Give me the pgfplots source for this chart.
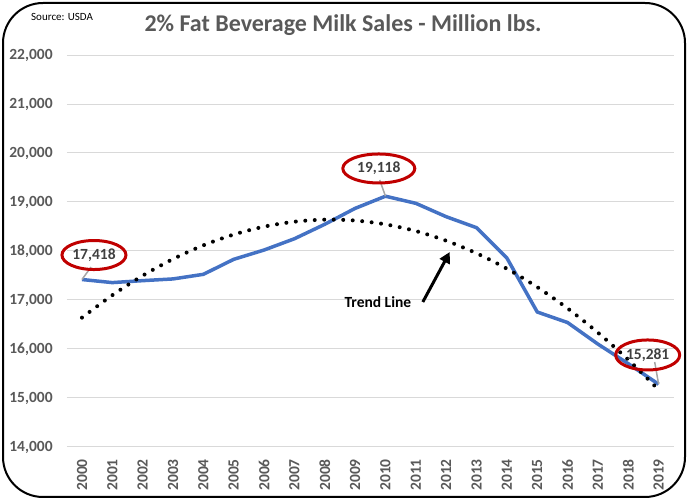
\documentclass[border=0pt]{standalone}
\usepackage{fontspec}
\setmainfont{Carlito}
\usepackage{pgfplots}
\pgfplotsset{compat=1.18}
\usetikzlibrary{arrows.meta,shapes.geometric}
\definecolor{milkblue}{HTML}{4472C4}
\definecolor{gridgrey}{HTML}{D9D9D9}
\definecolor{labelgrey}{HTML}{595959}
\definecolor{datagrey}{HTML}{404040}
\definecolor{leadergrey}{HTML}{A6A6A6}
\definecolor{ellred}{HTML}{C00000}
\begin{document}
\begin{tikzpicture}
\useasboundingbox (0pt,0pt) rectangle (688pt,500pt);
\draw[line width=2pt, rounded corners=40pt] (3pt,3pt) rectangle (685pt,497pt);
\node[font=\fontsize{11}{13}\selectfont, anchor=west, inner sep=0pt] at (31pt,483pt) {Source: USDA};
\node[font=\bfseries\fontsize{24}{28}\selectfont, text=labelgrey] at (343pt,475pt) {2\% Fat Beverage Milk Sales - Million lbs.};
\begin{axis}[
    at={(66.8pt,53pt)}, anchor=south west,
    scale only axis, width=607pt, height=392pt,
    xmin=1999.5, xmax=2019.5, ymin=14000, ymax=22000,
    xtick={2000,...,2019}, ytick={14000,15000,...,22000},
    scaled y ticks=false,
    axis line style={draw=none}, major tick length=0pt,
    ymajorgrids, grid style={draw=gridgrey, line width=1pt},
    ticklabel style={font=\bfseries\fontsize{15.5}{18}\selectfont, text=labelgrey, inner sep=0pt},
    /pgf/number format/assume math mode=true,
    yticklabel style={/pgf/number format/fixed, /pgf/number format/1000 sep={,}},
    xticklabel style={rotate=90, anchor=east, /pgf/number format/1000 sep={}},
    xticklabel shift=12pt, yticklabel shift=14pt,
    clip=false,
  ]
  % 2% fat milk sales, million lbs
  \addplot[milkblue, line width=3.5pt, line join=round] coordinates {
    (2000,17418) (2001,17355) (2002,17395) (2003,17430) (2004,17524)
    (2005,17830) (2006,18020) (2007,18250) (2008,18545) (2009,18870)
    (2010,19118) (2011,18973) (2012,18700) (2013,18476) (2014,17857)
    (2015,16755) (2016,16540) (2017,16100) (2018,15700) (2019,15281)
  };
  % polynomial trend line
  \addplot[black, line width=4pt, line cap=round, dash pattern=on 0pt off 9.5pt, smooth] coordinates {
    (2000,16640) (2001,17098) (2002,17497) (2003,17836) (2004,18116)
    (2005,18336) (2006,18497) (2007,18598) (2008,18640) (2009,18622)
    (2010,18544) (2011,18407) (2012,18210) (2013,17954) (2014,17639)
    (2015,17263) (2016,16829) (2017,16334) (2018,15781) (2019,15167)
  };
  \draw[leadergrey, line width=1.5pt] (axis cs:2000,17418) -- (axis cs:2000.3,17673);
  \draw[leadergrey, line width=1.5pt] (axis cs:2010,19118) -- (axis cs:2009.81,19449);
  \draw[leadergrey, line width=1.5pt] (axis cs:2019,15281) -- (axis cs:2018.87,15735);
  \tikzset{lbl/.style={draw=ellred, line width=3pt, ellipse, inner sep=0pt,
      font=\bfseries\fontsize{15.5}{18}\selectfont, text=datagrey}}
  \node[lbl, minimum width=64pt, minimum height=29pt] at (axis cs:2000.395,17918) {17,418};
  \node[lbl, minimum width=72pt, minimum height=29pt] at (axis cs:2009.78,19684) {19,118};
  \node[lbl, minimum width=64pt, minimum height=30pt] at (axis cs:2018.64,15878) {15,281};
  \node[font=\bfseries\fontsize{15.5}{18}\selectfont] at (axis cs:2009.75,16959) {Trend Line};
  \draw[line width=3pt, -{Triangle[length=11pt,width=11pt]}] (axis cs:2011.23,16959) -- (axis cs:2012.12,17980);
\end{axis}
\end{tikzpicture}
\end{document}
